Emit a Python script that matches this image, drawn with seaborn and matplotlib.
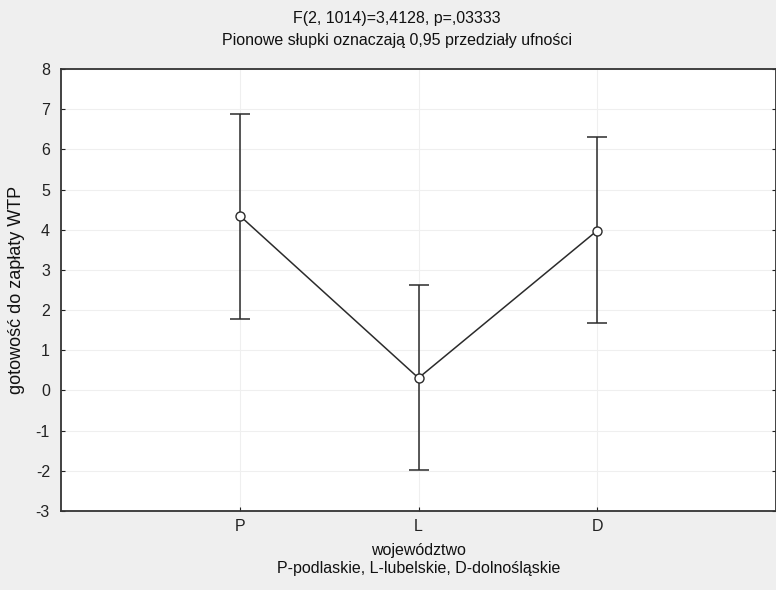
import matplotlib
matplotlib.use("Agg")
import matplotlib.pyplot as plt
import seaborn as sns
import pandas as pd

# Data
categories = ["P", "L", "D"]
means = [4.35, 0.31, 3.98]
ci_low = [1.78, -1.98, 1.67]
ci_high = [6.89, 2.63, 6.30]
y_ticks = [-3, -2, -1, 0, 1, 2, 3, 4, 5, 6, 7, 8]

title_lines = ["F(2, 1014)=3,4128, p=,03333",
               "Pionowe słupki oznaczają 0,95 przedziały ufności"]
x_label = "województwo\nP-podlaskie, L-lubelskie, D-dolnośląskie"
y_label = "gotowość do zapłaty WTP"

sns.set_theme(style="white")
plt.rcParams["font.family"] = ["Liberation Sans", "DejaVu Sans"]

df = pd.DataFrame({"woj": categories, "wtp": means})

fig = plt.figure(figsize=(7.76, 5.90), dpi=100, facecolor="#efefef")
ax = fig.add_axes([61 / 776, (590 - 511) / 590, (776 - 61) / 776, (511 - 69) / 590])
ax.set_facecolor("white")

line_color = "#2b2b2b"
ax.errorbar(categories, means,
            yerr=[[m - lo for m, lo in zip(means, ci_low)],
                  [hi - m for m, hi in zip(means, ci_high)]],
            fmt="none", ecolor=line_color, elinewidth=1.1, capsize=7,
            capthick=1.1, zorder=2)
sns.lineplot(data=df, x="woj", y="wtp", ax=ax, color=line_color,
             linewidth=1.1, marker="o", markersize=6.5,
             markerfacecolor="white", markeredgecolor=line_color,
             markeredgewidth=1.0, zorder=3, sort=False)

ax.set_xlim(-1, 3)
ax.set_ylim(-3, 8)
ax.set_yticks(y_ticks)
ax.set_yticklabels([str(t) for t in y_ticks])
ax.tick_params(axis="both", direction="in", length=3, width=0.8,
               colors="#222222", labelsize=11.5, pad=6,
               left=True, bottom=True, right=True)
ax.tick_params(axis="y", pad=8)
ax.grid(True, color="#efefef", linewidth=0.8)
ax.set_axisbelow(True)

for side in ["left", "bottom", "top", "right"]:
    ax.spines[side].set_color("#333333")
    ax.spines[side].set_linewidth(1.3)

ax.set_xlabel(x_label, fontsize=11.5, color="#111111", labelpad=6,
              linespacing=1.3)
ax.set_ylabel(y_label, fontsize=13, color="#111111", labelpad=8)

fig.text(397 / 776, 1 - 18 / 590, title_lines[0], ha="center", va="center",
         fontsize=11.5, color="#111111")
fig.text(397 / 776, 1 - 41 / 590, title_lines[1], ha="center", va="center",
         fontsize=11.5, color="#111111")

fig.savefig("out.png", dpi=100, facecolor=fig.get_facecolor())
